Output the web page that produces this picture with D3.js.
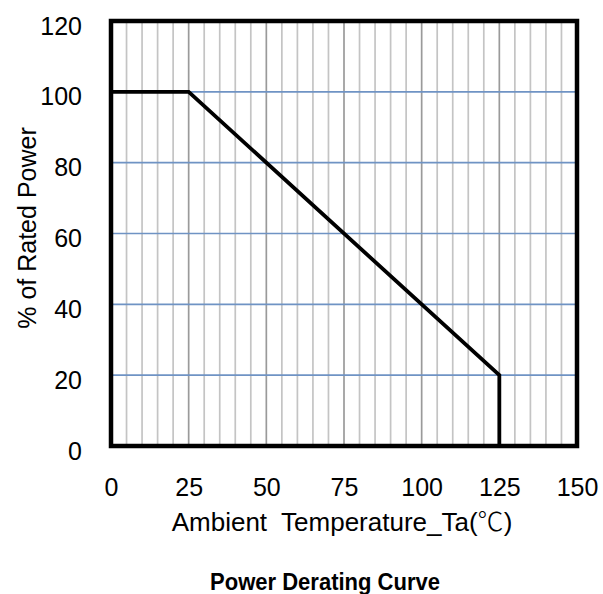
<!DOCTYPE html>
<html>
<head>
<meta charset="utf-8">
<script src="https://cdn.jsdelivr.net/npm/d3@7"></script>
<style>
  body { margin: 0; background: #fff; }
  text { font-family: "Liberation Sans", Arial, sans-serif; fill: #000; }
</style>
</head>
<body>
<div id="chart"></div>
<script>
// derating curve points (temperature in C, % of rated power)
const tempPts = [0, 25, 125, 125];
const powerPts = [100, 100, 20, 0];
const xTicks = [0, 25, 50, 75, 100, 125, 150];
const yTicks = [0, 20, 40, 60, 80, 100, 120];

const W = 603, H = 594;
const margin = { top: 21, right: 26, bottom: 148, left: 111 },
    width = W - margin.left - margin.right,
    height = H - margin.top - margin.bottom;

const svg = d3.select("#chart")
    .append("svg")
    .attr("width", W)
    .attr("height", H);

const g = svg.append("g")
    .attr("transform", `translate(${margin.left},${margin.top})`);

const x = d3.scaleLinear().domain([0, 150]).range([0, width]);
const y = d3.scaleLinear().domain([0, 120]).range([height, 0]);

// minor vertical grid every 5 degrees
g.append("g")
    .selectAll("line")
    .data(d3.range(5, 150, 5))
    .enter()
    .append("line")
    .attr("x1", d => x(d))
    .attr("x2", d => x(d))
    .attr("y1", 0)
    .attr("y2", height)
    .attr("stroke", d => d % 25 === 0 ? "#9a9a9a" : "#c4c4c4")
    .attr("stroke-width", 1.7);

// horizontal grid
g.append("g")
    .selectAll("line")
    .data(yTicks.filter(d => d > 0 && d < 120))
    .enter()
    .append("line")
    .attr("x1", 0)
    .attr("x2", width)
    .attr("y1", d => y(d))
    .attr("y2", d => y(d))
    .attr("stroke", "#6f93c4")
    .attr("stroke-width", 1.7);

// curve
const line = d3.line()
    .x((d, i) => x(tempPts[i]))
    .y(d => y(d));

g.append("path")
    .datum(powerPts)
    .attr("fill", "none")
    .attr("stroke", "#000")
    .attr("stroke-width", 3.8)
    .attr("stroke-linejoin", "miter")
    .attr("d", line);

// frame
g.append("rect")
    .attr("width", width)
    .attr("height", height)
    .attr("fill", "none")
    .attr("stroke", "#000")
    .attr("stroke-width", 4.5);

// axes (labels only)
const xAxis = d3.axisBottom(x).tickValues(xTicks).tickSize(0).tickPadding(0);
const yAxis = d3.axisLeft(y).tickValues(yTicks).tickSize(0).tickPadding(0);

const gx = g.append("g")
    .attr("transform", `translate(0,${height})`)
    .call(xAxis);
gx.select(".domain").remove();
gx.selectAll("text")
    .attr("y", 50)
    .attr("dy", 0)
    .style("font-size", "25px")
    .style("fill", "#000");

const gy = g.append("g").call(yAxis);
gy.select(".domain").remove();
gy.selectAll("text")
    .attr("x", -29)
    .attr("dy", 13)
    .style("font-size", "25px")
    .style("fill", "#000");

// axis titles
const xt = svg.append("text")
    .attr("x", 342)
    .attr("y", 531)
    .attr("text-anchor", "middle")
    .style("font-size", "26px")
    .style("white-space", "pre");
xt.append("tspan").text("Ambient  Temperature_Ta(");
xt.append("tspan")
    .style("font-family", "'Noto Sans CJK SC'")
    .style("font-weight", "300")
    .text("℃");
xt.append("tspan").text(")");

svg.append("text")
    .attr("transform", `translate(36,228) rotate(-90)`)
    .attr("text-anchor", "middle")
    .style("font-size", "25px")
    .text("% of Rated Power");

svg.append("text")
    .attr("x", 325)
    .attr("y", 590)
    .attr("text-anchor", "middle")
    .attr("textLength", 230)
    .attr("lengthAdjust", "spacingAndGlyphs")
    .style("font-size", "24px")
    .style("font-weight", "bold")
    .text("Power Derating Curve");
</script>
</body>
</html>
